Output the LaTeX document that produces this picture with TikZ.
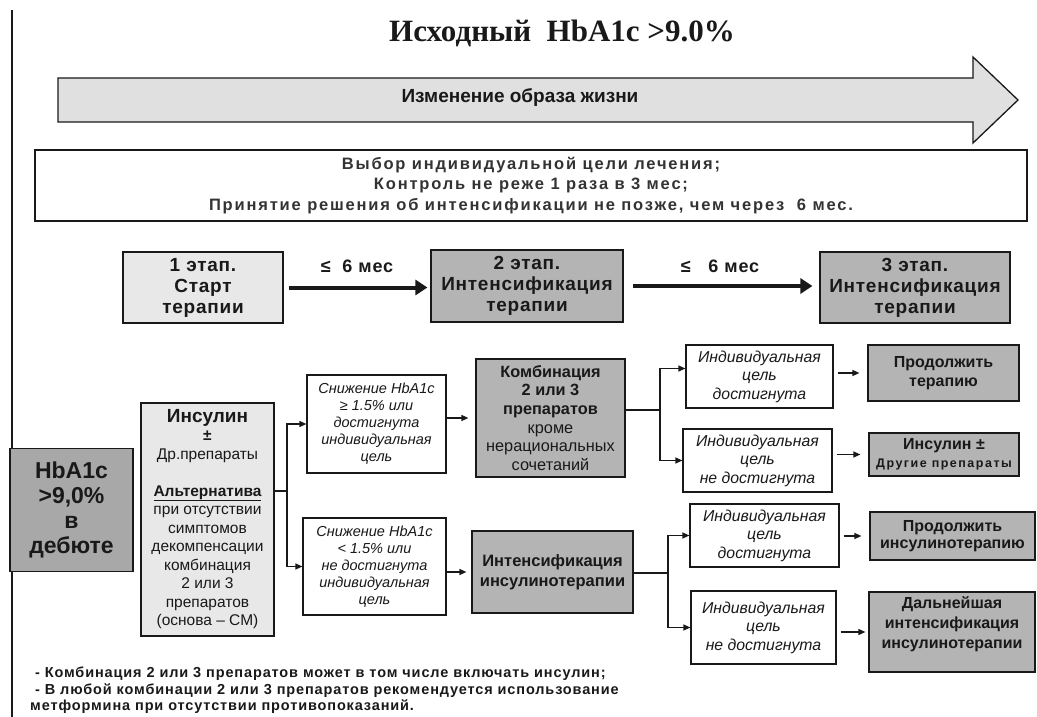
\documentclass[tikz,border=0pt]{standalone}
\usepackage{fontspec}
\setmainfont{Liberation Sans}
\newfontfamily\tnr{Liberation Serif}
\usetikzlibrary{arrows.meta}
\definecolor{gD}{RGB}{180,180,180}
\definecolor{gH}{RGB}{168,168,168}
\definecolor{gL}{RGB}{232,232,232}
\definecolor{gA}{RGB}{224,224,224}
\definecolor{ink}{RGB}{25,25,25}
\newcommand\fsz[2]{\fontsize{#1}{#2}\selectfont}
\newcommand\trk[1]{\addfontfeature{LetterSpace=#1}}
\begin{document}
\begin{tikzpicture}[x=1pt,y=-1pt,
  bx/.style={draw=ink, line width=1.2pt, inner sep=0pt, align=center, text=ink},
  dk/.style={bx, fill=gD},
  lt/.style={bx, fill=gL},
  wt/.style={bx, fill=white},
  ci/.style={wt, minimum height=63pt, font=\fsz{15.8}{18.5}\itshape},
  dd/.style={dk, font=\fsz{16}{18.5}\bfseries},
  stg/.style={minimum height=71pt, font=\fsz{19}{21}\bfseries\trk{4}},
  ln/.style={draw=ink, line width=1.3pt},
  arr/.style={ln, -{Triangle[length=7pt,width=6pt]}},
  big/.style={draw=ink, line width=4pt, -{Triangle[length=12pt,width=15pt]}},
]
\useasboundingbox (0,0) rectangle (1037,717);
\draw[ink, line width=1.2pt] (12,10) -- (12,717);

\node[font=\tnr\fsz{31}{34}\bfseries, text=ink] (title) at (562,33) {Исходный\ \ HbA1c >9.0\%};

\draw[draw=ink, line width=1.3pt, fill=gA] (58,78) -- (973,78) -- (973,57) -- (1018,100) -- (973,143) -- (973,122) -- (58,122) -- cycle;
\node[font=\fsz{19}{20}\bfseries, text=ink] (life) at (520,98) {Изменение образа жизни};

\node[wt, minimum width=992pt, minimum height=71pt, font=\fsz{16.5}{20.5}\bfseries\trk{11}, text=black!80] (goal) at (531,185.5)
 {Выбор индивидуальной цели лечения;\\Контроль не реже 1 раза в 3 мес;\\Принятие решения об интенсификации не позже, чем через\ \ 6 мес.};

\node[lt, stg, minimum width=160pt] (st1) at (203,287.5) {1 этап.\\Старт\\терапии};
\node[dk, stg, minimum width=192pt, minimum height=72pt] (st2) at (527,286) {2 этап.\\Интенсификация\\терапии};
\node[dk, stg, minimum width=190pt] (st3) at (915,287.5) {3 этап.\\Интенсификация\\терапии};
\node[font=\fsz{18}{20}\bfseries\trk{5}, text=ink] (m1) at (357,266) {≤\ \ 6 мес};
\node[font=\fsz{18}{20}\bfseries\trk{5}, text=ink] (m2) at (720,266) {≤\ \ \ 6 мес};
\draw[big, shorten <=5pt, shorten >=3pt] (st1.east) -- (st1.east -| st2.west);
\draw[big, shorten <=9pt, shorten >=7pt] (st2.east) -- (st2.east -| st3.west);

\node[bx, fill=gH, minimum width=123pt, minimum height=123pt, font=\fsz{23}{25}\bfseries] (hb) at (71.5,510) {HbA1c\\>9,0\%\\в\\дебюте};
\node[lt, minimum width=133pt, minimum height=233pt, font=\fsz{15.5}{18.5}] (ins) at (207.5,519.5)
 {\textbf{\fsz{19}{18.5}Инсулин}\\\textbf{±}\\Др.препараты\\[18.5pt]\textbf{\underline{Альтернатива}}\\при отсутствии\\симптомов\\декомпенсации\\комбинация\\2 или 3\\препаратов\\(основа – СМ)\\[-14pt]~};

\node[wt, minimum width=139pt, minimum height=98pt, font=\fsz{14.5}{17}\itshape] (A) at (376.5,424) {Снижение HbA1c\\≥ 1.5\% или\\достигнута\\индивидуальная\\цель};
\node[wt, minimum width=143pt, minimum height=97pt, font=\fsz{14.5}{17}\itshape] (B) at (374.5,566.5) {Снижение HbA1c\\< 1.5\% или\\не достигнута\\индивидуальная\\цель};

\node[dk, minimum width=149pt, minimum height=118pt, font=\fsz{16.3}{18.7}] (komb) at (550.5,418) {\textbf{Комбинация}\\\textbf{2 или 3}\\\textbf{препаратов}\\кроме\\нерациональных\\сочетаний};
\node[dk, minimum width=161pt, minimum height=82pt, font=\fsz{16.5}{20}\bfseries] (intens) at (552.5,572) {Интенсификация\\инсулинотерапии};

\node[ci, minimum width=147pt] (C1) at (759.5,376.5) {Индивидуальная\\цель\\достигнута};
\node[ci, minimum width=149pt] (C2) at (757.5,460.5) {Индивидуальная\\цель\\не достигнута};
\node[ci, minimum width=149pt] (C3) at (764.5,535.5) {Индивидуальная\\цель\\достигнута};
\node[ci, minimum width=145pt, minimum height=73pt] (C4) at (763.5,627.5) {Индивидуальная\\цель\\не достигнута};

\node[dd, minimum width=151pt, minimum height=56pt] (D1) at (943.5,373) {Продолжить\\терапию};
\node[dd, minimum width=150pt, minimum height=43pt] (D2) at (944,454.5) {\fsz{16}{17}Инсулин ±\\\fsz{12.5}{17}\trk{12}Другие препараты};
\node[dd, minimum width=165pt, minimum height=48pt, font=\fsz{16}{17}\bfseries] (D3) at (952.5,536) {Продолжить\\инсулинотерапию};
\node[dd, minimum width=166pt, minimum height=80pt, font=\fsz{16}{20}\bfseries] (D4) at (952,632) {Дальнейшая\\интенсификация\\инсулинотерапии\\[-2pt]~};

\coordinate (j1) at (287,491);
\draw[ln] (j1 -| ins.east) -- (j1);
\draw[arr] (j1) |- (A.west);
\draw[arr] (j1) |- (B.west);
\draw[arr, shorten >=7pt] (A.east |- komb.west) -- (komb.west);
\draw[arr, shorten >=5pt] (B.east |- intens.west) -- (intens.west);

\coordinate (j2) at (660,410);
\draw[ln] (j2 -| komb.east) -- (j2);
\draw[arr] (j2) |- ([yshift=8pt]C1.west);
\draw[arr] (j2) |- (C2.west);

\coordinate (j3) at (668,573);
\draw[ln] (j3 -| intens.east) -- (j3);
\draw[arr] (j3) |- (C3.west);
\draw[arr] (j3) |- (C4.west);

\draw[arr, shorten <=4pt, shorten >=8pt] (C1.east |- D1.west) -- (D1.west);
\draw[arr, shorten <=4pt, shorten >=8pt] (C2.east |- D2.west) -- (D2.west);
\draw[arr, shorten <=4pt, shorten >=8pt] (C3.east |- D3.west) -- (D3.west);
\draw[arr, shorten <=4pt, shorten >=3pt] (C4.east |- D4.west) -- (D4.west);

\node[anchor=north west, align=left, font=\fsz{14.5}{16.5}\bfseries\trk{6}, text=ink, inner sep=0pt] (note) at (30,667)
 {\ - Комбинация 2 или 3 препаратов может в том числе включать инсулин;\\\ - В любой комбинации 2 или 3 препаратов рекомендуется использование\\метформина при отсутствии противопоказаний.};
\end{tikzpicture}
\end{document}
